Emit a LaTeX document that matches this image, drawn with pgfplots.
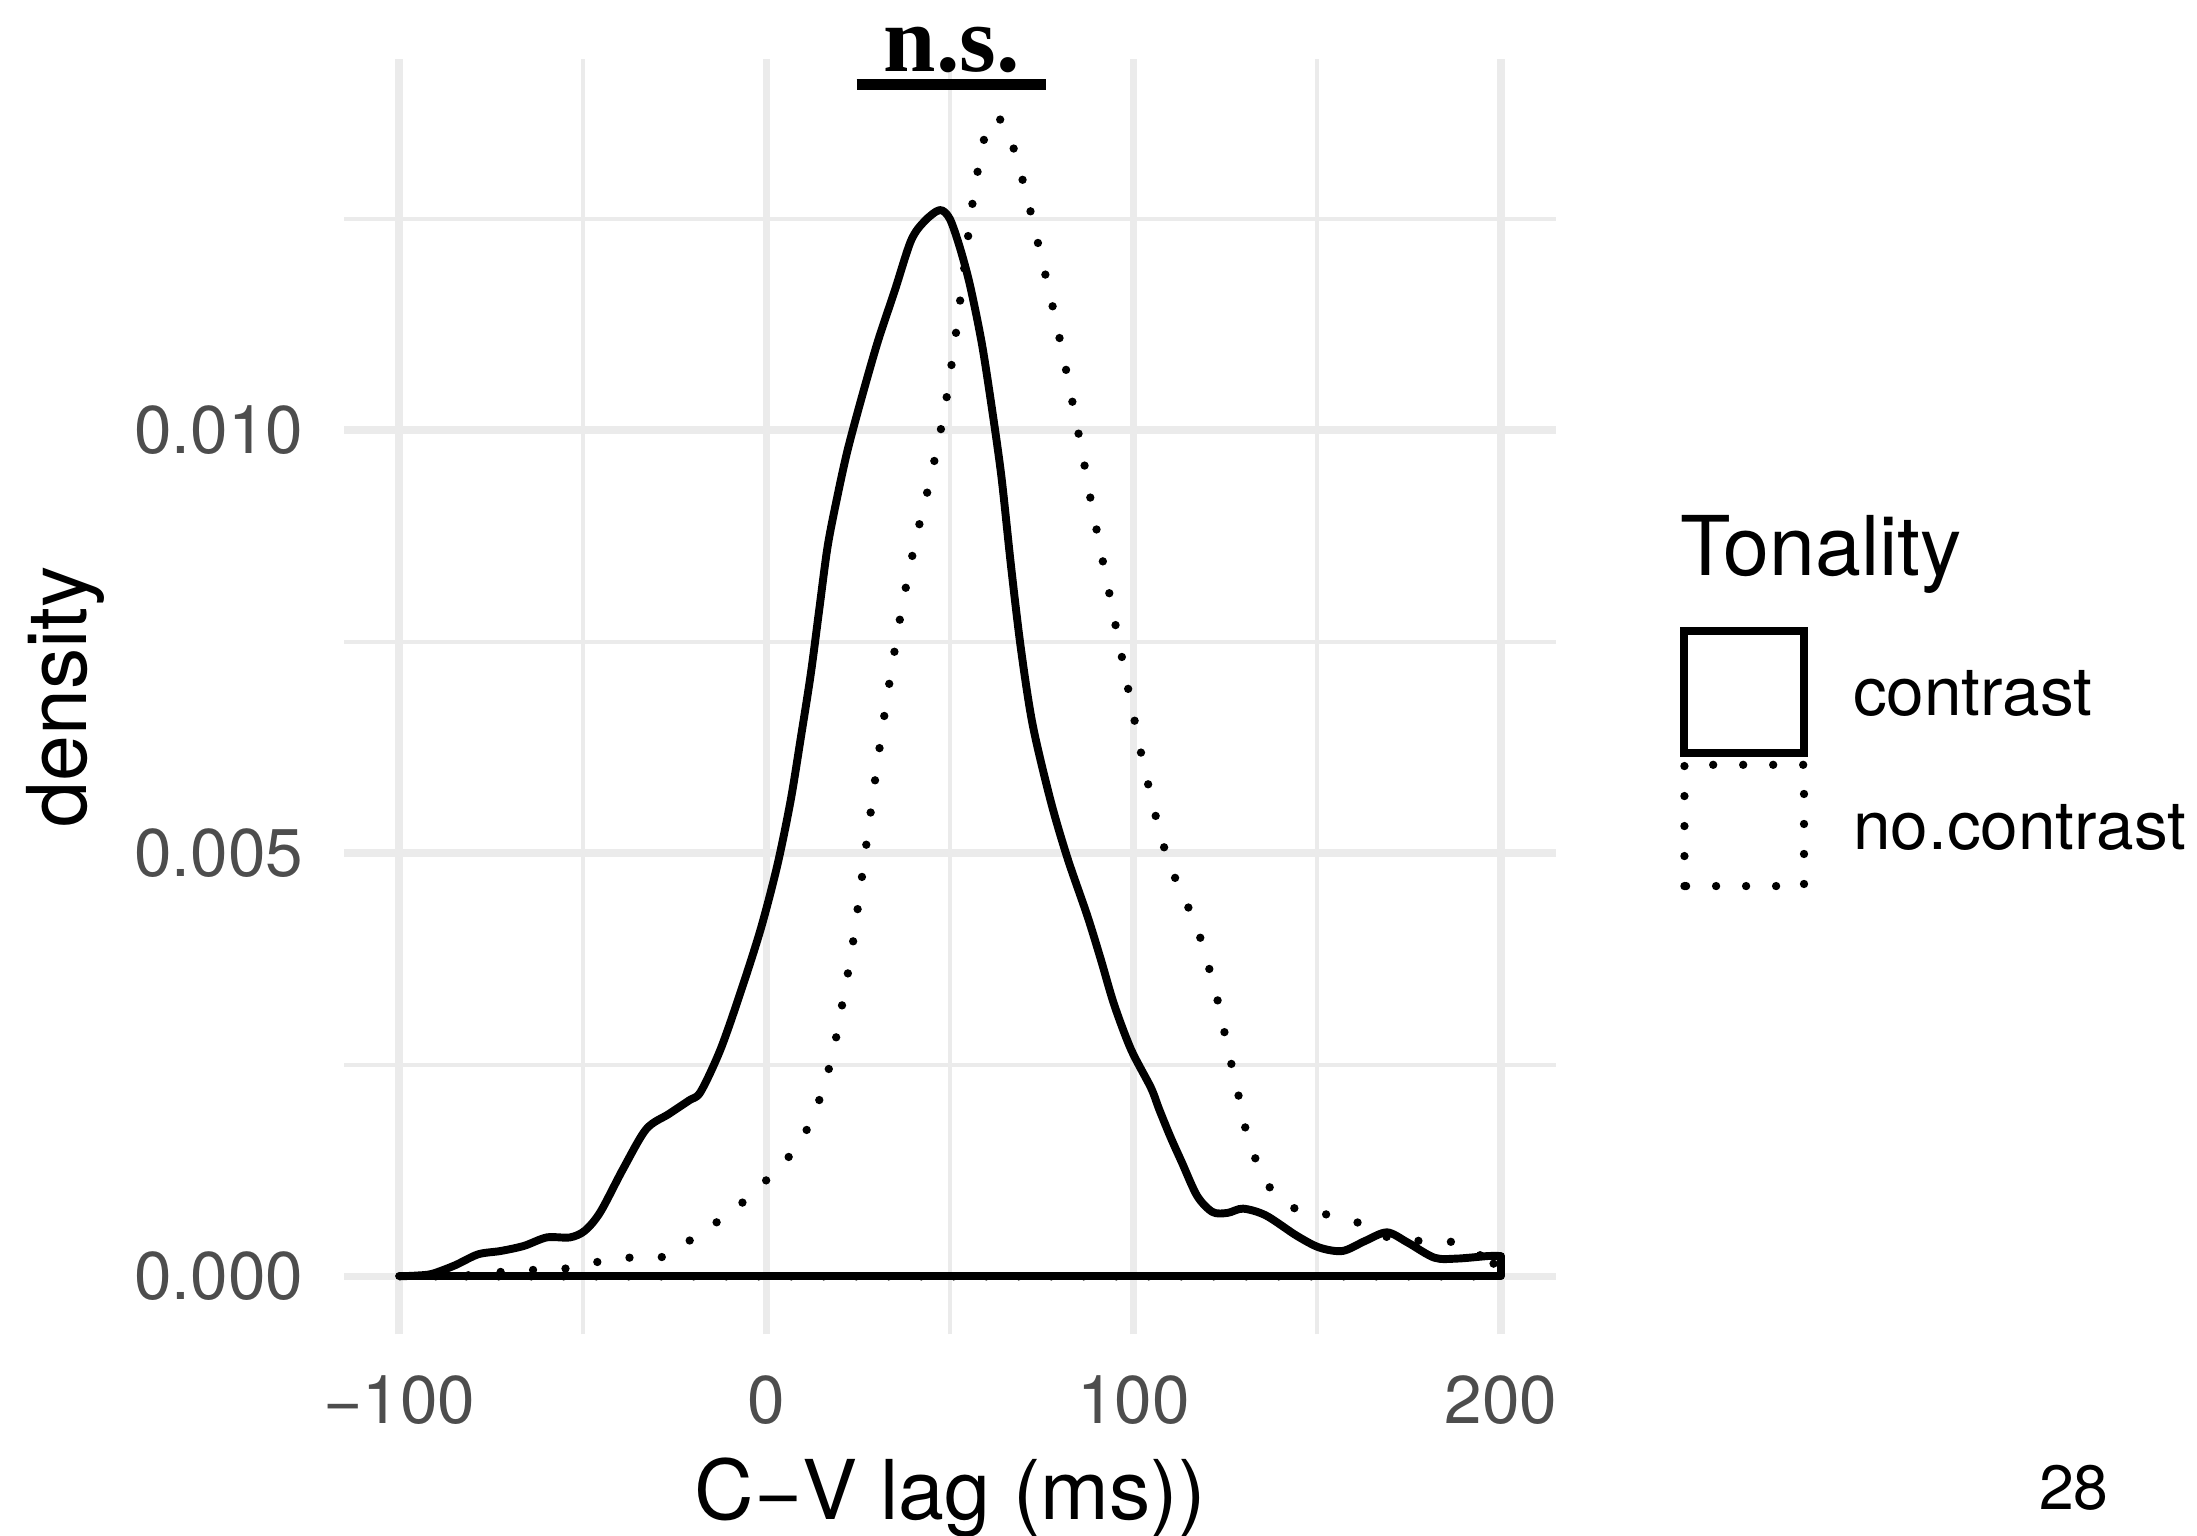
\documentclass[border=0pt]{standalone}
\usepackage{pgfplots}
\pgfplotsset{compat=1.18}
\usepackage{fontspec}
\setmainfont{TeX Gyre Heros}
\newfontfamily\timesfont{Liberation Serif}
\definecolor{tickgray}{HTML}{4D4D4D}
\definecolor{gridgray}{HTML}{EBEBEB}

\begin{document}
\begin{tikzpicture}
\useasboundingbox (-82.56pt,-48.38pt) rectangle (444.72pt,320.26pt);
\begin{axis}[
  at={(0pt,0pt)}, anchor=south west,
  scale only axis, width=290.88pt, height=306.19pt,
  xmin=-115, xmax=215, ymin=-0.000686, ymax=0.01439,
  axis line style={draw=none},
  major tick length=0pt, minor tick length=0pt,
  xtick={-100,0,100,200}, xticklabels={−100,0,100,200},
  minor xtick={-50,50,150},
  ytick={0,0.005,0.01}, yticklabels={0.000,0.005,0.010},
  minor ytick={0.0025,0.0075,0.0125},
  scaled y ticks=false,
  /pgf/number format/assume math mode=true,
  grid=both,
  major grid style={draw=gridgray, line width=1.8pt},
  minor grid style={draw=gridgray, line width=0.95pt},
  ticklabel style={font=\fontsize{16.2}{19}\selectfont, text=tickgray, inner sep=0pt},
  xticklabel style={anchor=north, yshift=-9.7pt},
  yticklabel style={anchor=east, xshift=-9.6pt},
  xlabel={C−V lag (ms))}, ylabel={density},
  every axis x label/.style={at={(axis description cs:0.5,-0.1450)}, anchor=base, inner sep=0pt, font=\fontsize{19.8}{23}\selectfont},
  every axis y label/.style={at={(axis description cs:-0.2121,0.5)}, rotate=90, anchor=base, inner sep=0pt, font=\fontsize{19.8}{23}\selectfont},
]
% no.contrast (dotted)
\addplot[black, line width=2.0pt, line cap=round, dash pattern=on 0pt off 7.8pt, smooth, tension=0.5] coordinates {
(-90,0) (-82,0.00001) (-73,0.00005) (-64,0.000075) (-55,0.00009) (-46,0.00017) (-38,0.00022) (-29,0.00022) (-21,0.00042) (-13.5,0.00064) (-6,0.00089) (1,0.00118) (7,0.00146) (11.7,0.00179) (15.1,0.00217) (17.6,0.00255) (19.4,0.00291) (21,0.0033) (22.6,0.00368) (24,0.00407) (26.4,0.00484) (28.8,0.00561) (31.3,0.00639) (34,0.00715) (37,0.00792) (40.6,0.00869) (44.8,0.00945) (48.4,0.01021) (51.1,0.01098) (53.4,0.01175) (55.6,0.01252) (57,0.01292) (58.6,0.01331) (60.5,0.01362) (62.5,0.0137) (65.5,0.01357) (68.3,0.01318) (70.8,0.01279) (72.9,0.0124) (75,0.01202) (77,0.01164) (79,0.01126) (80.8,0.01088) (82.6,0.0105) (84.3,0.01011) (86,0.00974) (87.6,0.00934) (89.3,0.00896) (91,0.00858) (92.8,0.0082) (94.5,0.00782) (96.3,0.00743) (98,0.00705) (99.8,0.00667) (101.5,0.00629) (103.5,0.0059) (105.5,0.00553) (107.8,0.00514) (110.7,0.00477) (114.3,0.00442) (117.7,0.00406) (120.3,0.00368) (122.6,0.00331) (124.5,0.00293) (126.4,0.00255) (128.4,0.00217) (130.2,0.00179) (132.9,0.00142) (136.9,0.00106) (144,0.0008) (154,0.00072) (162.7,0.00061) (171,0.00043) (180,0.00042) (188.5,0.00039) (196.5,0.00019) (198,0.00015)
};
\addplot[black, line width=2.0pt, line cap=round, dash pattern=on 0pt off 7.8pt] coordinates {
(198,0.00015) (198,0) (-90,0)
};
% contrast (solid)
\addplot[black, line width=1.9pt, line join=round, smooth, tension=0.5] coordinates {
(-100,0) (-95,0.00001) (-91,0.00003) (-84.8,0.00013) (-78.5,0.00026) (-72.3,0.0003) (-66,0.00036) (-59.8,0.00046) (-53.5,0.00046) (-49.4,0.00054) (-45.2,0.00076) (-39,0.00127) (-32.7,0.00174) (-26.5,0.00192) (-21,0.00208) (-17.9,0.00218) (-12.5,0.00268) (-7,0.00336) (-1.5,0.00411) (3,0.00486) (6.6,0.00562) (9.4,0.00637) (12.1,0.00712) (14.4,0.00788) (16.7,0.00863) (19.4,0.00923) (22.1,0.00976) (25.8,0.01036) (30.3,0.01104) (34.9,0.01164) (39.4,0.01224) (43.1,0.01247) (47.2,0.0126) (49.9,0.0125) (52.6,0.01217) (55.4,0.01172) (58.6,0.01104) (61.3,0.01029) (64,0.00945) (66.6,0.0084) (69.3,0.00742) (72.5,0.00652) (77.4,0.00562) (82,0.00494) (87.4,0.00426) (91.1,0.00374) (94.7,0.00321) (99.3,0.00268) (104.7,0.00223) (106.9,0.00198) (110,0.00165) (113.1,0.00135) (117.3,0.00095) (121.5,0.00076) (125.6,0.00075) (129.8,0.0008) (136,0.00072) (144.4,0.00048) (150.6,0.00034) (156.9,0.0003) (163.1,0.00042) (169,0.00052) (174.6,0.0004) (181.9,0.00022) (188.1,0.00021) (196.5,0.00024) (200,0.00024)
};
\addplot[black, line width=1.9pt, line join=round, line cap=round] coordinates {
(200,0.00024) (200,0) (-100,0)
};
\end{axis}
% significance annotation
\node[anchor=base, inner sep=0pt, font=\timesfont\bfseries\fontsize{22.6}{26}\selectfont] at (145.9pt,303.0pt) {n.s.};
\draw[line width=2.5pt] (123.0pt,300.0pt) -- (168.4pt,300.0pt);
% legend
\node[anchor=base west, inner sep=0pt, font=\fontsize{19.8}{23}\selectfont] at (320.6pt,182.1pt) {Tonality};
\draw[line width=1.8pt] (321.6pt,139.5pt) rectangle (350.4pt,168.8pt);
\draw[line width=2.0pt, line cap=round, dash pattern=on 0pt off 7.2pt] (321.7pt,107.6pt) rectangle (350.4pt,136.7pt);
\node[anchor=base west, inner sep=0pt, font=\fontsize{16.2}{19}\selectfont] at (362.0pt,148.5pt) {contrast};
\node[anchor=base west, inner sep=0pt, font=\fontsize{16.2}{19}\selectfont] at (362.0pt,116.4pt) {no.contrast};
% page number
\node[anchor=base west, inner sep=0pt, font=\fontsize{15}{18}\selectfont] at (406.6pt,-42.1pt) {28};
\end{tikzpicture}
\end{document}
